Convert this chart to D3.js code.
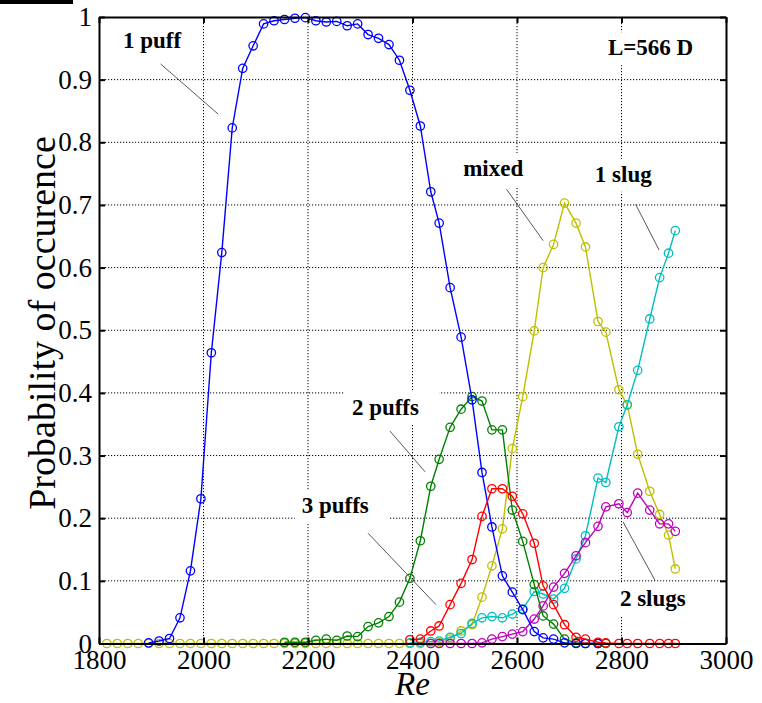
<!DOCTYPE html>
<html lang="en">
<head>
  <meta charset="UTF-8">
  <title>Probability of occurence</title>
  <style>
    body { margin: 0; background: #fff; }
    svg { display: block; background: #fff; }
    text { font-family: "Liberation Serif", "Times New Roman", serif; }
  </style>
</head>
<body>
  <svg width="762" height="703"></svg>
  <script src="https://d3js.org/d3.v7.min.js"></script>
  <script>
    // Re values of the measurement points (shared by every curve)
    const re = [1815, 1835, 1855, 1875, 1895, 1915, 1935, 1955, 1975, 1995,
      2015, 2035, 2055, 2075, 2095, 2115, 2135, 2155, 2175, 2195,
      2215, 2235, 2255, 2275, 2295, 2315, 2335, 2355, 2375, 2395,
      2415, 2435, 2451, 2472, 2493, 2514, 2533, 2552, 2572, 2591,
      2611, 2633, 2650, 2670, 2691, 2713, 2731, 2755, 2770, 2795,
      2811, 2831, 2854, 2873, 2890, 2903];

    const onePuff = [null, null, null, null, 0.001, 0.004, 0.008, 0.041, 0.116, 0.231,
      0.464, 0.624, 0.823, 0.918, 0.954, 0.989, 0.994, 0.996, 0.998, 0.999,
      0.994, 0.992, 0.993, 0.986, 0.989, 0.972, 0.966, 0.956, 0.931, 0.883,
      0.826, 0.721, 0.671, 0.568, 0.489, 0.389, 0.273, 0.186, 0.108, 0.082,
      0.054, 0.019, 0.009, 0.007, 0.001, 0, 0, 0, null, null,
      null, null, null, null, null, null];

    const twoPuffs = [null, null, null, null, null, null, null, null, null, null,
      null, null, null, null, null, null, null, 0.002, 0.002, 0.002,
      0.005, 0.007, 0.005, 0.012, 0.011, 0.027, 0.033, 0.043, 0.066, 0.104,
      0.164, 0.251, 0.294, 0.345, 0.374, 0.394, 0.387, 0.341, 0.341, 0.213,
      0.163, 0.094, 0.044, 0.031, 0.007, 0.001, 0, 0, 0, null,
      null, null, null, null, null, null];

    const threePuffs = [null, null, null, null, null, null, null, null, null, null,
      null, null, null, null, null, null, null, null, null, null,
      null, null, null, null, null, null, null, null, null, 0.006,
      0.007, 0.020, 0.028, 0.062, 0.096, 0.134, 0.203, 0.247, 0.247, 0.235,
      0.207, 0.160, 0.092, 0.062, 0.030, 0.010, 0.007, 0.002, 0.001, 0,
      0, 0, 0, 0, 0, 0];

    const oneSlug = [null, null, null, null, null, null, null, null, null, null,
      null, null, null, null, null, null, null, null, null, null,
      null, null, null, null, null, null, null, null, null, 0.001,
      0.002, 0.003, 0.004, 0.010, 0.016, 0.032, 0.041, 0.043, 0.041, 0.047,
      0.055, 0.083, 0.079, 0.071, 0.088, 0.135, 0.172, 0.264, 0.257, 0.346,
      0.381, 0.436, 0.518, 0.584, 0.623, 0.659];

    const twoSlugs = [null, null, null, null, null, null, null, null, null, null,
      null, null, null, null, null, null, null, null, null, null,
      null, null, null, null, null, null, null, null, null, null,
      null, 0, 0, 0, 0, 0, 0.001, 0.007, 0.011, 0.015,
      0.019, 0.039, 0.060, 0.090, 0.112, 0.140, 0.161, 0.187, 0.218, 0.223,
      0.209, 0.240, 0.213, 0.191, 0.191, 0.179];

    const mixed = [0, 0, 0, 0, 0, 0, 0, 0, 0, 0,
      0, 0, 0, 0, 0, 0, 0, 0, 0, 0,
      0, 0, 0, 0, 0, 0, 0, 0, 0, 0,
      0, 0, 0.001, 0.007, 0.020, 0.030, 0.074, 0.124, 0.183, 0.311,
      0.394, 0.499, 0.600, 0.637, 0.703, 0.671, 0.633, 0.514, 0.497, 0.405,
      0.381, 0.302, 0.243, 0.206, 0.173, 0.119];

    const xTicks = [1800, 2000, 2200, 2400, 2600, 2800, 3000];
    const xTickLabels = ["1800", "2000", "2200", "2400", "2600", "2800", "3000"];
    const yTicks = [0, 0.1, 0.2, 0.3, 0.4, 0.5, 0.6, 0.7, 0.8, 0.9, 1];
    const yTickLabels = ["0", "0.1", "0.2", "0.3", "0.4", "0.5", "0.6", "0.7", "0.8", "0.9", "1"];
    const labels = ["1 puff", "2 puffs", "3 puffs", "1 slug", "2 slugs", "mixed"];

    const svg = d3.select("svg");
    const plotLeft = 99, plotRight = 726, plotTop = 17, plotBottom = 643.5;

    const x = d3.scaleLinear().domain([1800, 3000]).range([plotLeft, plotRight]);
    const y = d3.scaleLinear().domain([0, 1]).range([plotBottom, plotTop]);

    // odd artifact bar in the corner of the original picture
    svg.append("rect").attr("x", 0).attr("y", 0).attr("width", 73).attr("height", 4).attr("fill", "#000");

    // dotted grid
    const grid = svg.append("g")
      .attr("stroke", "#000")
      .attr("stroke-width", 1)
      .attr("stroke-dasharray", "1.2,1.8");
    grid.selectAll(".gx")
      .data(xTicks.slice(1, -1))
      .enter()
      .append("line")
      .attr("x1", d => x(d)).attr("x2", d => x(d))
      .attr("y1", plotTop).attr("y2", plotBottom);
    grid.selectAll(".gy")
      .data(yTicks.slice(1, -1))
      .enter()
      .append("line")
      .attr("x1", plotLeft).attr("x2", plotRight)
      .attr("y1", d => y(d)).attr("y2", d => y(d));

    // annotations (text box hides the grid behind it)
    const notes = [
      { text: labels[0], tx: 1846, ty: 0.951, from: [1918, 0.925], to: [2028, 0.845] },
      { text: labels[5], tx: 2497, ty: 0.746, from: [2580, 0.725], to: [2650, 0.643] },
      { text: labels[3], tx: 2749, ty: 0.737, from: [2827, 0.701], to: [2872, 0.628] },
      { text: labels[1], tx: 2284, ty: 0.365, from: [2357, 0.339], to: [2424, 0.274] },
      { text: labels[2], tx: 2188, ty: 0.208, from: [2315, 0.176], to: [2445, 0.062] },
      { text: labels[4], tx: 2797, ty: 0.060, from: [2803, 0.194], to: [2864, 0.101] },
      { text: "L=566 D", tx: 2774, ty: 0.939 }
    ];

    const noteG = svg.append("g");
    notes.forEach(n => {
      const g = noteG.append("g");
      const t = g.append("text")
        .attr("x", x(n.tx))
        .attr("y", y(n.ty))
        .attr("font-size", "23px")
        .attr("font-weight", "bold")
        .attr("fill", "#000")
        .text(n.text);
      const b = t.node().getBBox();
      g.insert("rect", "text")
        .attr("x", b.x - 7)
        .attr("y", b.y - 3)
        .attr("width", b.width + 27)
        .attr("height", b.height + 8)
        .attr("fill", "#fff");
      if (n.from) {
        g.append("line")
          .attr("x1", x(n.from[0])).attr("y1", y(n.from[1]))
          .attr("x2", x(n.to[0])).attr("y2", y(n.to[1]))
          .attr("stroke", "#444")
          .attr("stroke-width", 0.9);
      }
    });

    // curves, drawn bottom to top
    const series = [
      { values: mixed, color: "#bfbf00" },
      { values: oneSlug, color: "#00bfbf" },
      { values: twoSlugs, color: "#bf00bf" },
      { values: twoPuffs, color: "#008000" },
      { values: onePuff, color: "#0000ff" },
      { values: threePuffs, color: "#ff0000" }
    ];

    const line = d3.line()
      .defined(d => d[1] != null)
      .x(d => x(d[0]))
      .y(d => y(d[1]));

    series.forEach(s => {
      const pts = re.map((r, i) => [r, s.values[i]]);
      const g = svg.append("g");
      g.append("path")
        .datum(pts)
        .attr("fill", "none")
        .attr("stroke", s.color)
        .attr("stroke-width", 1.4)
        .attr("d", line);
      g.selectAll("circle")
        .data(pts.filter(d => d[1] != null))
        .enter()
        .append("circle")
        .attr("cx", d => x(d[0]))
        .attr("cy", d => y(d[1]))
        .attr("r", 4.2)
        .attr("fill", "none")
        .attr("stroke", s.color)
        .attr("stroke-width", 1.3);
    });

    // axes box with inward ticks
    const axisStyle = g => {
      g.selectAll(".domain").attr("stroke", "#000").attr("stroke-width", 2);
      g.selectAll(".tick line").attr("stroke", "#000").attr("stroke-width", 2);
      g.selectAll("text")
        .attr("font-family", "'Liberation Serif', 'Times New Roman', serif")
        .attr("font-size", "27px")
        .attr("fill", "#000");
    };

    svg.append("g")
      .attr("transform", `translate(0,${plotBottom})`)
      .call(d3.axisBottom(x).tickValues(xTicks).tickFormat((d, i) => xTickLabels[i]).tickSizeInner(-6).tickSizeOuter(0).tickPadding(6))
      .call(axisStyle);
    svg.append("g")
      .attr("transform", `translate(0,${plotTop})`)
      .call(d3.axisTop(x).tickValues(xTicks).tickFormat("").tickSizeInner(-6).tickSizeOuter(0))
      .call(axisStyle);
    svg.append("g")
      .attr("transform", `translate(${plotLeft},0)`)
      .call(d3.axisLeft(y).tickValues(yTicks).tickFormat((d, i) => yTickLabels[i]).tickSizeInner(-6).tickSizeOuter(0).tickPadding(7))
      .call(axisStyle);
    svg.append("g")
      .attr("transform", `translate(${plotRight},0)`)
      .call(d3.axisRight(y).tickValues(yTicks).tickFormat("").tickSizeInner(-6).tickSizeOuter(0))
      .call(axisStyle);

    // axis titles
    svg.append("text")
      .attr("x", (plotLeft + plotRight) / 2)
      .attr("y", 695)
      .attr("text-anchor", "middle")
      .attr("font-size", "33px")
      .attr("font-style", "italic")
      .text("Re");

    svg.append("text")
      .attr("transform", "translate(55,323) rotate(-90)")
      .attr("text-anchor", "middle")
      .attr("font-size", "38px")
      .text("Probability of occurence");
  </script>
</body>
</html>
